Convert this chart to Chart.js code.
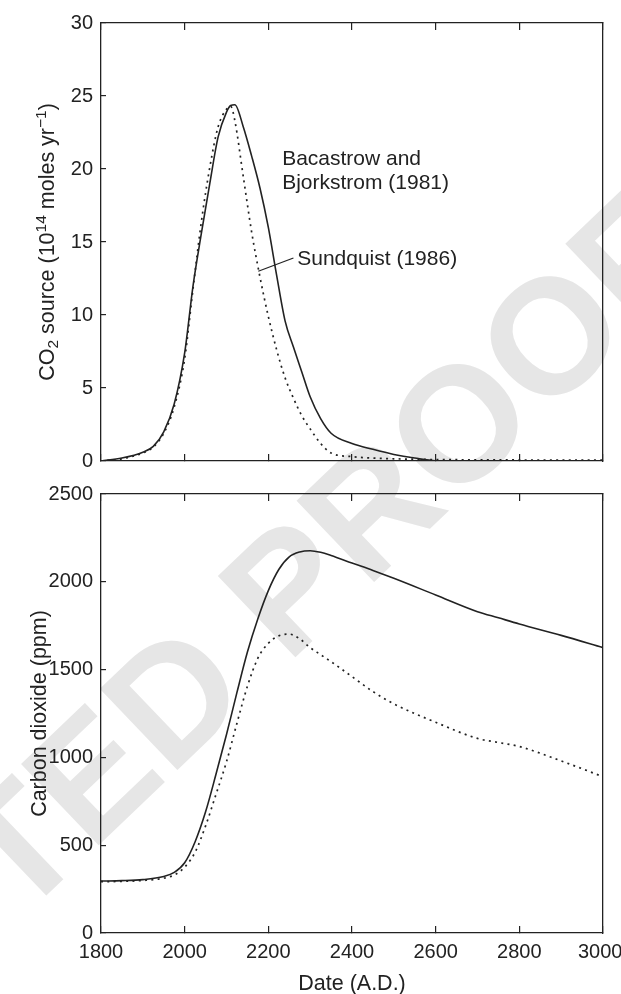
<!DOCTYPE html>
<html>
<head>
<meta charset="utf-8">
<script src="https://cdn.jsdelivr.net/npm/chart.js@4.4.1/dist/chart.umd.min.js"></script>
<style>
  html, body { margin: 0; padding: 0; background: #fff; }
  #wrap { position: relative; width: 621px; height: 994px; overflow: hidden; }
  canvas { position: absolute; left: 0; }
  #sourceChart { top: 0; }
  #co2Chart { top: 480px; }
</style>
</head>
<body>
<div id="wrap">
  <canvas id="sourceChart" width="621" height="480"></canvas>
  <canvas id="co2Chart" width="621" height="514"></canvas>
</div>
<script>
// CO2 source (10^14 moles/yr)
const sourceYears = [1800, 1850, 1900, 1925, 1950, 1975, 2000, 2020, 2040, 2060, 2080, 2100, 2110, 2120, 2140, 2160, 2180, 2200, 2220, 2240, 2260, 2280, 2300, 2325, 2350, 2400, 2450, 2500, 2550, 2600, 2700, 2800, 2900, 3000];
const sourceBacastrow = [0, 0.2, 0.6, 1.0, 2.0, 3.9, 7.4, 12.0, 15.6, 19.0, 22.2, 23.9, 24.35, 24.4, 22.9, 20.9, 18.7, 16.0, 12.7, 9.6, 7.8, 6.1, 4.4, 2.9, 1.9, 1.2, 0.8, 0.45, 0.2, 0.02, 0, 0, 0, 0];
const sourceSundquist = [0, 0.15, 0.55, 0.95, 1.9, 3.7, 7.0, 11.8, 16.4, 20.1, 22.9, 24.1, 24.3, 23.3, 19.5, 15.7, 12.6, 9.9, 7.6, 5.7, 4.3, 3.1, 2.2, 1.2, 0.55, 0.3, 0.2, 0.15, 0.12, 0.1, 0.08, 0.07, 0.07, 0.07];

// Atmospheric carbon dioxide (ppm)
const co2Years = [1800, 1850, 1900, 1950, 1975, 2000, 2025, 2050, 2075, 2100, 2125, 2150, 2175, 2200, 2225, 2250, 2275, 2300, 2325, 2350, 2400, 2450, 2500, 2600, 2700, 2750, 2800, 2900, 3000];
const co2Bacastrow = [296, 298, 304, 322, 345, 400, 520, 690, 905, 1130, 1370, 1600, 1790, 1950, 2070, 2142, 2170, 2177, 2168, 2150, 2107, 2065, 2020, 1925, 1830, 1795, 1760, 1695, 1625];
const co2Sundquist = [292, 294, 299, 312, 330, 375, 460, 610, 790, 975, 1195, 1405, 1565, 1650, 1692, 1702, 1675, 1625, 1585, 1545, 1460, 1375, 1305, 1200, 1108, 1085, 1062, 980, 890];

const yearRange = [1800, 3000];
const sourceRange = [0, 30];
const co2Range = [0, 2500];

const ink = '#222';
const fontFamily = '"Liberation Sans", Arial, Helvetica, sans-serif';
const tickFont = { family: fontFamily, size: 20 };
const titleFont = { family: fontFamily, size: 21.5 };

function toPoints(xs, ys) {
  return xs.map((x, i) => ({ x, y: ys[i] }));
}

function solidLine(data) {
  return {
    data,
    borderColor: ink,
    borderWidth: 1.6,
    pointRadius: 0,
    cubicInterpolationMode: 'monotone',
    fill: false,
  };
}

function dottedLine(data) {
  return {
    data,
    borderColor: ink,
    borderWidth: 1.7,
    borderDash: [2, 4.3],
    pointRadius: 0,
    cubicInterpolationMode: 'monotone',
    fill: false,
  };
}

// pin each axis box to a fixed size so both panels share the same plot frame
function fixed(size) {
  return function (scale) {
    if (scale.isHorizontal()) scale.height = size;
    else scale.width = size;
    scale.paddingLeft = 0;
    scale.paddingRight = 0;
    scale.paddingTop = 0;
    scale.paddingBottom = 0;
  };
}

function tickGrid(len) {
  return {
    display: true,
    drawOnChartArea: false,
    drawTicks: true,
    tickLength: -len,
    color: ink,
    lineWidth: 1.2,
  };
}

const frame = { display: true, color: ink, width: 1.3 };

function buildScales(yRange, yStep, yTitle, titlePad, showX, heights) {
  return {
    x: {
      type: 'linear',
      position: 'bottom',
      min: yearRange[0],
      max: yearRange[1],
      ticks: {
        display: showX,
        stepSize: 200,
        padding: 14,
        color: ink,
        font: tickFont,
        maxRotation: 0,
        // last label sits at the page edge, nudge it inwards a little
        callback: (v) => (v === yearRange[1] ? v + ' ' : String(v)),
      },
      grid: tickGrid(7),
      border: frame,
      title: {
        display: showX,
        text: 'Date (A.D.)',
        color: ink,
        font: titleFont,
        padding: { top: 0, bottom: -3 },
      },
      afterFit: fixed(heights.bottom),
    },
    xTop: {
      type: 'linear',
      position: 'top',
      min: yearRange[0],
      max: yearRange[1],
      ticks: { display: false, stepSize: 200 },
      grid: tickGrid(7),
      border: frame,
      afterFit: fixed(heights.top),
    },
    y: {
      type: 'linear',
      position: 'left',
      min: yRange[0],
      max: yRange[1],
      ticks: {
        stepSize: yStep,
        padding: 13,
        color: ink,
        font: tickFont,
        callback: (v) => String(v),
      },
      grid: tickGrid(5),
      border: frame,
      title: {
        display: Boolean(yTitle),
        text: yTitle || '',
        color: ink,
        font: titleFont,
        padding: { top: titlePad, bottom: 0 },
      },
      afterFit: fixed(101),
    },
    yRight: {
      type: 'linear',
      position: 'right',
      min: yRange[0],
      max: yRange[1],
      ticks: { display: false },
      grid: { display: false },
      border: frame,
      afterFit: fixed(18),
    },
  };
}

// curve labels for the upper panel, placed in data units
const sourceNotes = [
  { text: 'Bacastrow and', x: 2233, y: 20.3 },
  { text: 'Bjorkstrom (1981)', x: 2233, y: 18.6 },
  { text: 'Sundquist (1986)', x: 2269, y: 13.4 },
];
const leader = { from: [2176, 13.0], to: [2260, 13.9] };

const notesPlugin = {
  id: 'notes',
  afterDatasetsDraw(chart) {
    const { ctx, scales } = chart;
    const sx = scales.x;
    const sy = scales.y;
    ctx.save();
    ctx.fillStyle = ink;
    ctx.font = `21px ${fontFamily}`;
    ctx.textBaseline = 'alphabetic';
    ctx.textAlign = 'left';
    sourceNotes.forEach((n) => {
      ctx.fillText(n.text, sx.getPixelForValue(n.x), sy.getPixelForValue(n.y));
    });
    ctx.strokeStyle = ink;
    ctx.lineWidth = 1.2;
    ctx.beginPath();
    ctx.moveTo(sx.getPixelForValue(leader.from[0]), sy.getPixelForValue(leader.from[1]));
    ctx.lineTo(sx.getPixelForValue(leader.to[0]), sy.getPixelForValue(leader.to[1]));
    ctx.stroke();
    ctx.restore();
  },
};

// rotated y title of the upper panel, with real sub- and superscripts
const sourceTitle = [
  { text: 'CO' },
  { text: '2', shift: 4 },
  { text: ' source (10' },
  { text: '14', shift: -8 },
  { text: ' moles yr' },
  { text: '\u22121', shift: -8 },
  { text: ')' },
];

const richTitlePlugin = {
  id: 'richTitle',
  afterDraw(chart) {
    const { ctx, chartArea } = chart;
    const big = `21.5px ${fontFamily}`;
    const small = `15.5px ${fontFamily}`;
    ctx.save();
    const widths = sourceTitle.map((p) => {
      ctx.font = p.shift ? small : big;
      return ctx.measureText(p.text).width;
    });
    const total = widths.reduce((a, b) => a + b, 0);
    ctx.translate(54, (chartArea.top + chartArea.bottom) / 2);
    ctx.rotate(-Math.PI / 2);
    ctx.fillStyle = ink;
    ctx.textBaseline = 'alphabetic';
    ctx.textAlign = 'left';
    let pos = -total / 2;
    sourceTitle.forEach((p, i) => {
      ctx.font = p.shift ? small : big;
      ctx.fillText(p.text, pos, p.shift || 0);
      pos += widths[i];
    });
    ctx.restore();
  },
};

// faint proof stamp running diagonally across both panels (page coordinates):
// the first "O" of PROOF is centred on `at`, and one "O" advance is `oWidth` px
const stamp = {
  text: 'UNCORRECTED PROOF',
  before: 'UNCORRECTED PR',
  at: [458, 423],
  oWidth: 127,
  angle: -43.7,
  color: '#e6e6e6',
};

const stampPlugin = {
  id: 'stamp',
  beforeDraw(chart, args, opts) {
    const { ctx } = chart;
    ctx.save();
    ctx.font = `bold 100px ${fontFamily}`;
    const size = (100 * stamp.oWidth) / ctx.measureText('O').width;
    ctx.font = `bold ${size}px ${fontFamily}`;
    const o = ctx.measureText('O');
    const along = ctx.measureText(stamp.before).width + o.width / 2;
    const up = o.actualBoundingBoxAscent / 2;
    ctx.translate(stamp.at[0], stamp.at[1] - opts.pageTop);
    ctx.rotate((stamp.angle * Math.PI) / 180);
    ctx.fillStyle = stamp.color;
    ctx.textBaseline = 'alphabetic';
    ctx.textAlign = 'left';
    ctx.fillText(stamp.text, -along, up);
    ctx.restore();
  },
};

function commonOptions(pageTop) {
  return {
    responsive: false,
    animation: false,
    devicePixelRatio: 1,
    layout: { padding: 0 },
    plugins: {
      legend: { display: false },
      tooltip: { enabled: false },
      stamp: { pageTop },
    },
  };
}

new Chart(document.getElementById('sourceChart'), {
  type: 'line',
  data: {
    datasets: [
      solidLine(toPoints(sourceYears, sourceBacastrow)),
      dottedLine(toPoints(sourceYears, sourceSundquist)),
    ],
  },
  options: {
    ...commonOptions(0),
    scales: buildScales(sourceRange, 5, null, 0, false, { top: 23, bottom: 19 }),
  },
  plugins: [stampPlugin, notesPlugin, richTitlePlugin],
});

new Chart(document.getElementById('co2Chart'), {
  type: 'line',
  data: {
    datasets: [
      solidLine(toPoints(co2Years, co2Bacastrow)),
      dottedLine(toPoints(co2Years, co2Sundquist)),
    ],
  },
  options: {
    ...commonOptions(480),
    scales: buildScales(co2Range, 500, 'Carbon dioxide (ppm)', 27, true, { top: 14, bottom: 61 }),
  },
  plugins: [stampPlugin],
});
</script>
</body>
</html>
